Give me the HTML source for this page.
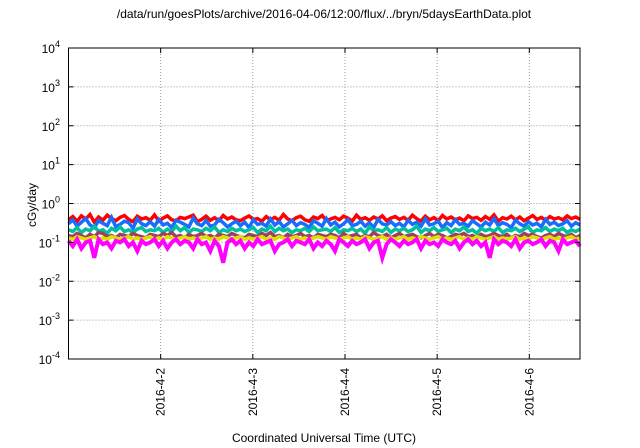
<!DOCTYPE html>
<html><head><meta charset="utf-8"><style>
html,body{margin:0;padding:0;background:#fff;}
svg{display:block;font-family:"Liberation Sans",sans-serif;}
</style></head><body>
<svg id="chart" width="640" height="448" viewBox="0 0 640 448" xmlns="http://www.w3.org/2000/svg">
<text x="324" y="18" font-size="12" text-anchor="middle" fill="#000">/data/run/goesPlots/archive/2016-04-06/12:00/flux/../bryn/5daysEarthData.plot</text>
<g id="grid"></g>
<g id="series"></g>
<rect x="68.5" y="48" width="511.5" height="311" fill="none" stroke="#000" stroke-width="1"></rect>
<g id="axes"></g>
<text transform="translate(36,205) rotate(-90)" font-size="12" text-anchor="middle">cGy/day</text>
<text x="324" y="442" font-size="12" text-anchor="middle">Coordinated Universal Time (UTC)</text>
</svg>
<script>
const yExponents = [-4,-3,-2,-1,0,1,2,3,4];
const xDayLabels = ["2016-4-2","2016-4-3","2016-4-4","2016-4-5","2016-4-6"];
const xDayOffsets = [1,2,3,4,5];
const xDaysSpan = 5.55;
const seriesColors = ["#ff0000","#1a6cff","#00c0a0","#a04060","#e0e000","#ff00ff"];
const seriesNames = ["series-red","series-blue","series-teal","series-brown","series-yellow","series-magenta"];
const redVals = [38,46,35,48,40,52,33,45,37,50,41,36,44,49,39,34,47,40,43,37,51,35,42,48,38,36,44,41,45,50,34,39,47,37,43,36,49,40,45,38,36,42,48,39,41,35,46,38,44,37,52,40,36,43,47,38,35,45,41,49,36,40,44,38,47,42,35,50,39,43,37,45,40,48,36,42,46,39,44,37,50,41,35,47,38,43,36,49,40,45,38,42,36,48,41,44,37,46,39,51,35,43,40,47,38,45,36,42,49,39,44,37,46,40,43,38,48,41,45,39];
const blueVals = [30,38,26,33,41,28,24,36,31,27,44,25,29,35,32,23,40,30,27,34,26,39,28,31,24,37,33,29,25,42,30,27,36,26,28,39,32,25,30,35,27,33,24,38,29,31,26,40,28,34,25,30,37,27,32,29,24,36,31,26,41,28,33,25,30,38,27,29,35,26,32,24,39,30,28,34,27,31,25,37,29,33,26,40,28,30,35,24,32,27,38,29,31,26,36,30,25,33,28,41,27,32,29,24,37,30,26,34,28,31,25,39,29,33,27,30,36,26,32,28];
const tealVals = [21,19,24,18,22,20,26,19,21,17,23,20,25,19,21,18,22,24,19,21,20,23,18,22,19,26,20,24,18,22,21,19,23,20,25,18,21,19,23,20,22,19,21,24,18,22,20,26,19,23,20,22,18,21,20,23,19,25,20,21,22,19,24,18,21,20,23,19,22,17,25,20,21,19,24,18,22,20,23,19,21,26,18,22,20,24,19,21,23,18,22,20,25,19,21,17,23,20,22,19,24,18,21,20,23,19,22,25,18,21,20,24,19,22,20,23,18,21,19,22];
const brownVals = [15,14,17,15,13,16,14,18,17,14,15,13,16,15,14,17,15,14,13,16,15,14,17,15,18,14,15,13,16,14,15,17,14,15,13,16,15,14,17,15,14,13,16,15,14,17,15,18,14,15,13,16,14,15,17,14,15,13,16,15,14,16,15,13,17,14,15,16,13,15,14,18,15,14,16,13,15,17,14,15,16,14,13,15,17,14,16,15,13,14,16,15,17,14,15,13,16,14,15,17,15,14,16,13,15,14,17,15,16,14,13,15,16,14,17,15,14,16,13,15];
const yellowVals = [13,12,14,13,12,13,14,12,13,12,14,13,12,13,14,12,13,12,13,14,12,13,12,14,13,12,13,14,12,13,12,13,14,12,13,12,14,13,12,13,14,12,13,12,13,14,12,13,12,14,13,12,13,14,12,13,12,13,14,13,12,14,13,12,13,14,12,13,12,14,13,12,13,14,12,13,12,13,14,12,13,12,14,13,12,13,14,12,13,12,13,14,12,13,12,14,13,12,13,14,12,13,12,13,14,12,13,12,14,13,12,13,14,12,13,12,13,14,12,13];
const magentaVals = [11,8,12,7,10,11,4,12,9,10,7,11,10,12,8,10,6,11,9,10,12,8,11,7,10,12,9,11,10,7,12,9,10,6,11,8,3,10,12,9,11,7,10,8,12,9,10,11,6,9,10,12,8,11,10,9,12,7,10,8,11,9,6,12,10,8,11,9,10,12,7,10,11,4,9,12,10,8,11,9,10,12,7,11,9,10,8,12,10,9,11,7,10,12,9,11,8,10,4,12,9,11,10,8,12,7,10,11,9,10,12,8,11,10,6,12,9,10,11,8];
const allSeries = [redVals,blueVals,tealVals,brownVals,yellowVals,magentaVals];

const NS="http://www.w3.org/2000/svg";
const L=68.5,R=580,T=48,B=359;
function yScale(v){return B-(Math.log10(v)+4)/8*(B-T);}
function xScale(d){return L+d/xDaysSpan*(R-L);}
const grid=document.getElementById('grid'),axes=document.getElementById('axes'),ser=document.getElementById('series');
function mk(tag,attrs,parent){const e=document.createElementNS(NS,tag);for(const k in attrs)e.setAttribute(k,attrs[k]);parent.appendChild(e);return e;}
yExponents.forEach(function(ex){
  const y=yScale(Math.pow(10,ex));
  if(ex>-4&&ex<4){const g=mk('line',{x1:L,x2:R,y1:y,y2:y,stroke:'#999','stroke-dasharray':'1,2'},grid);
    
    }
  const t1=mk('line',{x1:L,x2:L+5,y1:y,y2:y,stroke:'#000'},axes);
  
  
  const t2=mk('line',{x1:R,x2:R-5,y1:y,y2:y,stroke:'#000'},axes);
  
  
  const tx=mk('text',{x:60,y:y+5,'font-size':'12','text-anchor':'end'},axes);
  
  
  tx.textContent='10';
  const sup=mk('tspan',{dy:'-6','font-size':'9'},tx);sup.textContent=String(ex);
});
xDayOffsets.forEach(function(d,i){
  const x=xScale(d);
  const g=mk('line',{x1:x,x2:x,y1:T,y2:B,stroke:'#999','stroke-dasharray':'1,2'},grid);
  
  
  const t1=mk('line',{x1:x,x2:x,y1:B,y2:B-5,stroke:'#000'},axes);
  
  
  const t2=mk('line',{x1:x,x2:x,y1:T,y2:T+5,stroke:'#000'},axes);
  
  
  const tx=mk('text',{transform:'translate('+(x+4)+',368) rotate(-90)','font-size':'12','text-anchor':'end'},axes);
  
  
  tx.textContent=xDayLabels[i];
});
allSeries.forEach(function(vals,si){
  const n=vals.length;
  const pts=vals.map(function(v,i){return xScale(i/(n-1)*xDaysSpan).toFixed(1)+','+yScale(v/100).toFixed(1);}).join(' ');
  const p=mk('polyline',{points:pts,fill:'none',stroke:seriesColors[si],'stroke-width':si===5?'4':'3.5','stroke-linejoin':'miter'},ser);
  
  
});
</script>
</body></html>
